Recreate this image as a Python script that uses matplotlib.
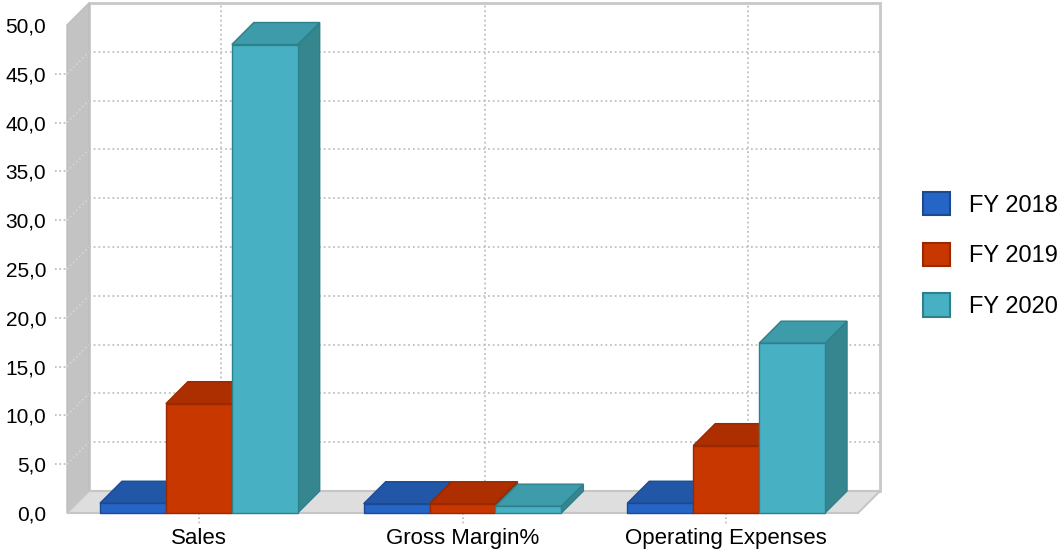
import numpy as np
import matplotlib.pyplot as plt
from matplotlib.patches import Polygon, Patch

plt.rcParams['font.family'] = ['Liberation Sans', 'DejaVu Sans']

categories = ['Sales', 'Gross Margin%', 'Operating Expenses']
series = ['FY 2018', 'FY 2019', 'FY 2020']
fy2018 = [1.0, 0.95, 1.0]
fy2019 = [11.2, 0.95, 6.9]
fy2020 = [48.0, 0.7, 17.4]
values = [fy2018, fy2019, fy2020]
yticks = [0, 5, 10, 15, 20, 25, 30, 35, 40, 45, 50]
ytick_labels = ['0,0', '5,0', '10,0', '15,0', '20,0', '25,0', '30,0',
                '35,0', '40,0', '45,0', '50,0']

# front, top, side, edge colour per series
colors = [
    ('#2565c6', '#2257a8', '#1f4f99', '#1c4a92'),
    ('#c83700', '#ad2f00', '#9c2a00', '#982900'),
    ('#47b1c3', '#3e9ba9', '#368690', '#2e808b'),
]

W, H = 1064, 551
fig = plt.figure(figsize=(W / 100, H / 100), dpi=100)
ax = fig.add_axes([67 / W, 38 / H, 791 / W, 488 / H])
ncat = len(categories)
ymax = 50
ax.set_xlim(0, ncat)
ax.set_ylim(0, ymax)
for s in ax.spines.values():
    s.set_visible(False)

# pixel -> data unit factors, depth offset of the 3d box
px = ncat / 791
py = ymax / 488
dx, dy = 22 * px, 22 * py
dots = (0, (1, 1.6))

# back wall
ax.add_patch(Polygon([(dx, dy), (ncat + dx, dy), (ncat + dx, ymax + dy), (dx, ymax + dy)],
                     closed=True, facecolor='white', edgecolor='#c8c8c8', lw=2,
                     clip_on=False, zorder=0))
for t in yticks[1:-1]:
    ax.plot([dx, ncat + dx], [t + dy, t + dy], ls=dots, color='#c0c0c0', lw=1.3,
            clip_on=False, zorder=1)
for i in range(ncat):
    ax.plot([i + 0.5 + dx] * 2, [dy, ymax + dy], ls=dots, color='#c0c0c0', lw=1.3,
            clip_on=False, zorder=1)

# left wall and floor
ax.add_patch(Polygon([(0, 0), (0, ymax), (dx, ymax + dy), (dx, dy)], closed=True,
                     facecolor='#c3c3c3', edgecolor='#bdbdbd', lw=1, clip_on=False, zorder=1.5))
for t in yticks[1:-1]:
    ax.plot([0, dx], [t, t + dy], ls=dots, color='#d6d6d6', lw=1.2, clip_on=False, zorder=1.6)
ax.add_patch(Polygon([(0, 0), (ncat, 0), (ncat + dx, dy), (dx, dy)], closed=True,
                     facecolor='#dedede', edgecolor='#c6c6c6', lw=1.5, clip_on=False, zorder=1.7))

# dotted tick marks
for t in yticks[1:-1]:
    ax.plot([-12 * px, 0], [t, t], ls=dots, color='#b8b8b8', lw=1.2, clip_on=False)
for i in range(ncat):
    ax.plot([i + 0.5] * 2, [0, -12 * py], ls=dots, color='#b8b8b8', lw=1.2, clip_on=False)

# bars: front face from ax.bar, top and side faces as parallelograms
bw = 0.25
x = np.arange(ncat) + 0.5
for j, vals in enumerate(values):
    front, top, side, edge = colors[j]
    z = 3 + j * 0.1
    left = x + (j - 1.5) * bw
    for x0, v in zip(left, vals):
        ax.add_patch(Polygon([(x0 + bw, 0), (x0 + bw + dx, dy), (x0 + bw + dx, v + dy), (x0 + bw, v)],
                             closed=True, facecolor=side, edgecolor=edge, lw=1,
                             clip_on=False, zorder=z))
        ax.add_patch(Polygon([(x0, v), (x0 + bw, v), (x0 + bw + dx, v + dy), (x0 + dx, v + dy)],
                             closed=True, facecolor=top, edgecolor=edge, lw=1,
                             clip_on=False, zorder=z))
    ax.bar(left, vals, width=bw, align='edge', color=front, edgecolor=edge, lw=1,
           zorder=z + 0.01, clip_on=False)

ax.set_yticks(yticks, ytick_labels)
ax.set_xticks(x, categories)
ax.tick_params(axis='y', length=0, pad=15, labelsize=15, labelcolor='black')
ax.tick_params(axis='x', length=0, pad=11, labelsize=16, labelcolor='black')

handles = [Patch(facecolor=c[0], edgecolor=c[3], lw=1.5) for c in colors]
fig.legend(handles, series, loc='center left', bbox_to_anchor=(923 / W, 296 / H),
           frameon=False, fontsize=17, handlelength=1.15, handleheight=1.15,
           handletextpad=0.8, labelspacing=1.1, borderpad=0, borderaxespad=0)

fig.savefig('out.png', dpi=100)
